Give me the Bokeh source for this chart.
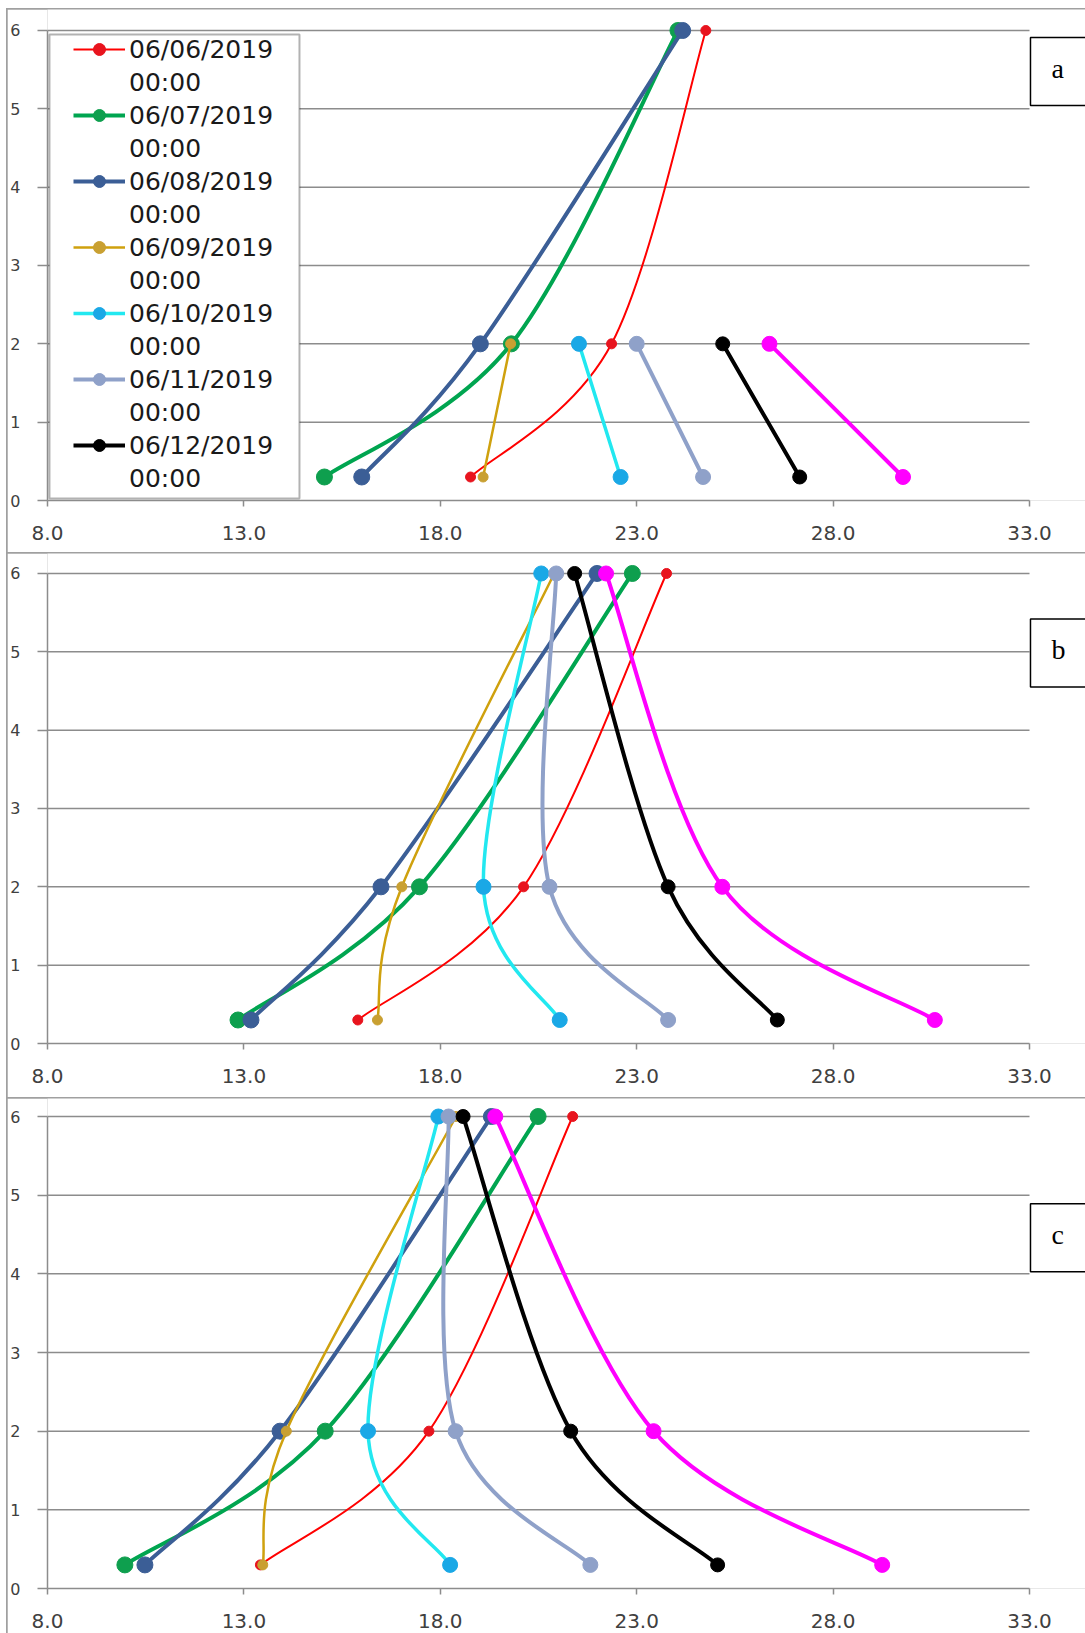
from bokeh.plotting import figure
from bokeh.layouts import column
from bokeh.models import (Range1d, FixedTicker, PrintfTickFormatter, Legend, LegendItem,
                          Label, BoxAnnotation, ColumnDataSource)
from bokeh.embed import file_html
from bokeh.resources import INLINE

# ---------------- data ----------------
legend_dates = ["06/06/2019", "06/07/2019", "06/08/2019", "06/09/2019",
                "06/10/2019", "06/11/2019", "06/12/2019"]
legend_time = "00:00"
depth = [0.3, 2.0, 6.0]
x_ticks = [8.0, 13.0, 18.0, 23.0, 28.0, 33.0]
y_ticks = [0, 1, 2, 3, 4, 5, 6]
panel_names = ["a", "b", "c"]

# panel a (values at depth 0.3, 2, 6)
a_0606 = [18.77, 22.36, 24.76]
a_0607 = [15.05, 19.81, 24.05]
a_0608 = [16.0, 19.02, 24.17]
a_0609 = [19.09, 19.79]
a_0610 = [22.59, 21.53]
a_0611 = [24.69, 23.0]
a_0612 = [27.15, 25.19]
a_0613 = [29.78, 26.38]

# panel b
b_0606 = [15.9, 20.12, 23.76]
b_0607 = [12.85, 17.47, 22.89]
b_0608 = [13.18, 16.49, 21.99]
b_0609 = [16.4, 17.02, 20.9]
b_0610 = [21.04, 19.1, 20.57]
b_0611 = [23.8, 20.78, 20.95]
b_0612 = [26.58, 23.8, 21.42]
b_0613 = [30.59, 25.18, 22.22]

# panel c
c_0606 = [13.42, 17.71, 21.37]
c_0607 = [9.97, 15.07, 20.49]
c_0608 = [10.48, 13.92, 19.3]
c_0609 = [13.48, 14.08, 18.4]
c_0610 = [18.25, 16.16, 17.95]
c_0611 = [21.82, 18.39, 18.21]
c_0612 = [25.06, 21.32, 18.58]
c_0613 = [29.25, 23.43, 19.4]

panels = [
    [a_0606, a_0607, a_0608, a_0609, a_0610, a_0611, a_0612, a_0613],
    [b_0606, b_0607, b_0608, b_0609, b_0610, b_0611, b_0612, b_0613],
    [c_0606, c_0607, c_0608, c_0609, c_0610, c_0611, c_0612, c_0613],
]

# ---------------- styles ----------------
# (line colour, marker colour, line width, marker size)
styles = [
    ("#FF0000", "#E8141E", 2.0, 10),
    ("#00A550", "#0E9F4E", 4.0, 16),
    ("#3B5E96", "#3B5E96", 4.0, 16),
    ("#CFA10E", "#C9A032", 2.5, 10),
    ("#22E8F0", "#1AA8E6", 3.5, 15),
    ("#8FA1C9", "#8FA1C9", 4.0, 15),
    ("#000000", "#000000", 4.0, 14),
    ("#FF00FF", "#FF00FF", 4.0, 15),
]

GRID = "#8C8C8C"
TICK_TXT = "#404040"
PX_PER_X = 39.28          # horizontal pixels per degree
FRAME_W = 1038            # frame runs to the right edge of the page


def smooth(xs, ys):
    """Excel-like smoothed line: cubic Bezier segments through the points."""
    n = len(xs)
    out = {k: [] for k in ("x0", "y0", "x1", "y1", "cx0", "cy0", "cx1", "cy1")}
    for i in range(n - 1):
        pm = max(i - 1, 0)
        pp = min(i + 2, n - 1)
        out["x0"].append(xs[i]); out["y0"].append(ys[i])
        out["x1"].append(xs[i + 1]); out["y1"].append(ys[i + 1])
        out["cx0"].append(xs[i] + (xs[i + 1] - xs[pm]) / 6.0)
        out["cy0"].append(ys[i] + (ys[i + 1] - ys[pm]) / 6.0)
        out["cx1"].append(xs[i + 1] - (xs[pp] - xs[i]) / 6.0)
        out["cy1"].append(ys[i + 1] - (ys[pp] - ys[i]) / 6.0)
    return out


# figure geometry: (height, y_end, min_border_bottom, label box top in data y)
geom = [
    (543, 6.268, 52, 5.91),
    (544, 6.255, 54, 5.42),
    (535, 6.229, 45, 4.89),
]

x_end = x_ticks[0] + FRAME_W / PX_PER_X

figs = []
for k, series in enumerate(panels):
    h, yend, mbb, lab_y = geom[k]
    p = figure(width=1078, height=h, x_range=Range1d(x_ticks[0], x_end),
               y_range=Range1d(0, yend),
               output_backend="svg", toolbar_location=None,
               min_border_left=40, min_border_right=0, min_border_top=0,
               min_border_bottom=mbb)
    p.outline_line_color = None
    p.background_fill_color = "white"
    p.border_fill_color = "white"

    # axes
    p.xaxis.ticker = FixedTicker(ticks=x_ticks)
    p.xaxis.formatter = PrintfTickFormatter(format="%.1f")
    p.xaxis.bounds = (x_ticks[0], x_ticks[-1])
    p.yaxis.ticker = FixedTicker(ticks=y_ticks)
    p.yaxis.bounds = (y_ticks[0], y_ticks[-1])
    for ax in (p.xaxis, p.yaxis):
        ax.axis_line_color = GRID
        ax.axis_line_width = 1.5
        ax.major_tick_line_color = GRID
        ax.major_tick_line_width = 1.5
        ax.minor_tick_line_color = None
        ax.major_tick_in = 0
        ax.major_label_text_font = "DejaVu Sans"
        ax.major_label_text_color = TICK_TXT
    p.xaxis.major_tick_out = 6
    p.xaxis.major_label_text_font_size = "20px"
    p.xaxis.major_label_standoff = 19
    p.yaxis.major_tick_out = 10
    p.yaxis.major_label_text_font_size = "16px"
    p.yaxis.major_label_standoff = 17

    # horizontal gridlines, limited to the x axis extent
    p.xgrid.grid_line_color = None
    p.ygrid.grid_line_color = None
    p.segment(x0=x_ticks[0], x1=x_ticks[-1], y0=y_ticks[1:], y1=y_ticks[1:],
              line_color=GRID, line_width=1.5, level="underlay")

    curve_rs = []
    dot_rs = []
    for j, vals in enumerate(series):
        lc, mc, lw, ms = styles[j]
        ys = depth[:len(vals)]
        src = ColumnDataSource(smooth(vals, ys))
        cr = p.bezier(x0="x0", y0="y0", x1="x1", y1="y1", cx0="cx0", cy0="cy0",
                      cx1="cx1", cy1="cy1", source=src, line_color=lc, line_width=lw)
        dr = p.scatter(vals, ys, size=ms, fill_color=mc, line_color=mc)
        curve_rs.append(cr)
        dot_rs.append(dr)

    if k == 0:
        # legend frame
        p.add_layout(BoxAnnotation(left=8.05, right=14.415, bottom=0.026, top=5.949,
                                   fill_color="white", fill_alpha=1.0,
                                   line_color="black", line_width=2))
        items = []
        blank = p.line([], [], line_alpha=0)
        for j, d in enumerate(legend_dates):
            items.append(LegendItem(label=d, renderers=[curve_rs[j], dot_rs[j]]))
            items.append(LegendItem(label=legend_time, renderers=[blank]))
        leg = Legend(items=items, location=(22, 3), padding=4, spacing=3,
                     glyph_width=52, glyph_height=30, label_height=30,
                     label_standoff=4, label_text_font="DejaVu Sans",
                     label_text_font_size="25px", label_text_color="#1A1A1A",
                     background_fill_alpha=0, border_line_alpha=0, margin=0)
        p.add_layout(leg, "center")

    p.add_layout(Label(x=33.025, y=lab_y, text=panel_names[k], anchor="top_left",
                       text_align="left", text_baseline="top",
                       text_font="Liberation Serif", text_font_size="28px",
                       text_color="black",
                       padding=dict(left=21, right=40, top=15, bottom=22),
                       border_line_color="black", border_line_width=1.5,
                       background_fill_color="white"))
    figs.append(p)

layout = column(*figs, spacing=1,
                styles={"margin-left": "6px", "margin-top": "8px",
                        "border-left": "1px solid #A0A0A0",
                        "border-top": "1px solid #A0A0A0",
                        "background-color": "#A0A0A0"})

open("out.html", "w").write(file_html(layout, INLINE))
